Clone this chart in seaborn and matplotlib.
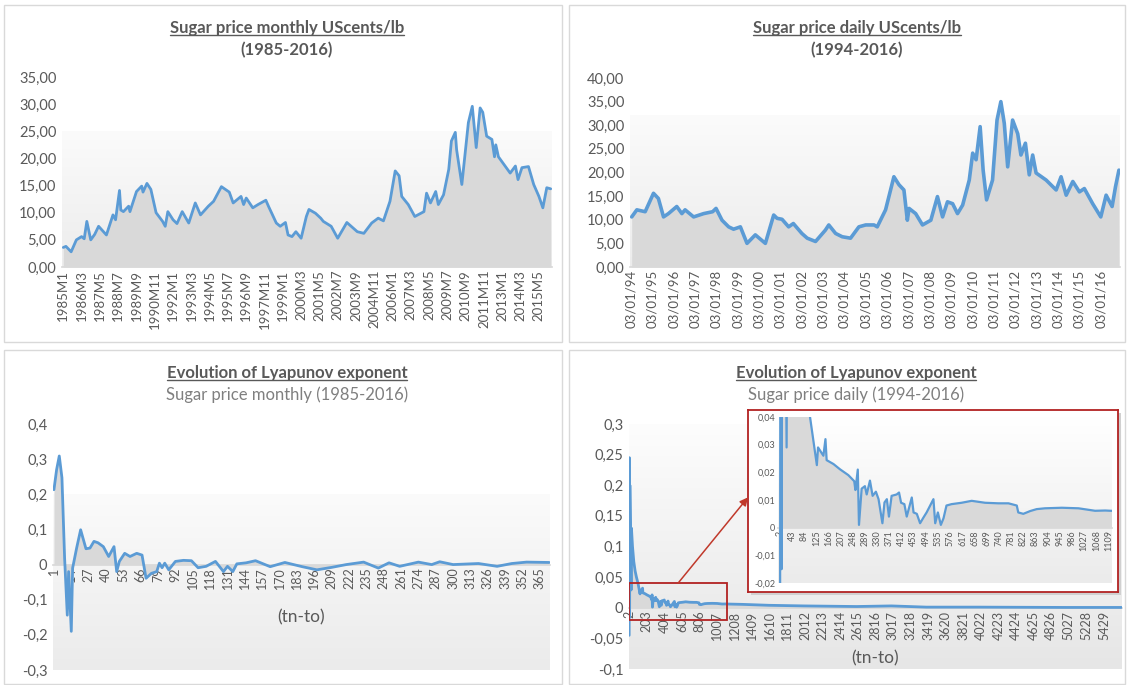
import numpy as np
import pandas as pd
import matplotlib
matplotlib.use("Agg")
import matplotlib.pyplot as plt
import seaborn as sns
from matplotlib.colors import LinearSegmentedColormap
from matplotlib.patches import Rectangle, ConnectionPatch
from matplotlib.lines import Line2D
from matplotlib.transforms import IdentityTransform

# ---------------- data ----------------
# monthly sugar price, month index counted from 1985M1
monthly_t = [0, 2, 6, 10, 14, 16, 18, 21, 24, 27, 33, 38, 40, 43, 44, 46, 50, 51, 56, 60,
             61, 64, 67, 71, 76, 78, 80, 84, 87, 91, 96, 101, 105, 111, 115, 121, 124, 127,
             130, 136, 138, 140, 145, 149, 155, 157, 163, 166, 170, 172, 175, 178, 182, 186,
             188, 193, 197, 199, 205, 210, 217, 225, 230, 236, 241, 245, 250, 254, 257, 259,
             264, 269, 276, 278, 281, 285, 287, 291, 295, 297, 300, 301, 305, 310, 313, 316,
             319, 321, 324, 328, 330, 331, 333, 342, 346, 348, 351, 356, 360, 364, 367, 370, 373]
monthly_price = [3.6, 3.8, 2.8, 5.0, 5.6, 5.2, 8.4, 5.0, 6.0, 7.5, 5.9, 9.6, 8.7, 14.1, 10.5,
                 10.2, 11.2, 10.2, 13.9, 14.9, 13.8, 15.4, 14.3, 10.0, 8.4, 7.5, 10.2, 8.7, 8.0,
                 10.2, 8.1, 11.8, 9.6, 11.2, 12.1, 14.8, 14.3, 13.8, 11.8, 13.0, 11.5, 12.7,
                 10.9, 11.5, 12.3, 11.2, 8.1, 7.5, 8.2, 5.9, 5.6, 6.5, 5.3, 9.3, 10.6, 9.9, 9.0,
                 8.4, 7.5, 5.3, 8.2, 6.5, 6.2, 8.1, 9.0, 8.5, 12.1, 17.7, 16.8, 13.0, 11.5, 9.3,
                 10.2, 13.6, 11.8, 13.9, 11.5, 13.3, 18.0, 23.2, 24.8, 21.6, 15.2, 26.6, 29.6,
                 22.0, 29.3, 28.5, 24.1, 23.5, 20.3, 22.5, 20.3, 17.3, 18.6, 16.1, 18.3, 18.5,
                 15.2, 13.0, 10.9, 14.6, 14.4]
monthly_ticks = ["1985M1", "1986M3", "1987M5", "1988M7", "1989M9", "1990M11", "1992M1",
                 "1993M3", "1994M5", "1995M7", "1996M9", "1997M11", "1999M1", "2000M3",
                 "2001M5", "2002M7", "2003M9", "2004M11", "2006M1", "2007M3", "2008M5",
                 "2009M7", "2010M9", "2011M11", "2013M1", "2014M3", "2015M5"]
monthly_tick_pos = list(range(0, 365, 14))
monthly_yticks = [0, 5, 10, 15, 20, 25, 30, 35]
monthly_ylabels = ["0,00", "5,00", "10,00", "15,00", "20,00", "25,00", "30,00", "35,00"]

# daily sugar price, x in fractional years
daily_year = [1994.03, 1994.27, 1994.66, 1995.05, 1995.28, 1995.52, 1995.75, 1996.14, 1996.38,
              1996.53, 1996.93, 1997.4, 1997.82, 1997.98, 1998.26, 1998.57, 1998.8, 1999.12,
              1999.43, 1999.82, 2000.29, 2000.68, 2000.84, 2001.07, 2001.38, 2001.6, 2002.0,
              2002.25, 2002.64, 2003.1, 2003.26, 2003.58, 2003.89, 2004.28, 2004.67, 2004.99,
              2005.38, 2005.53, 2005.92, 2006.31, 2006.55, 2006.78, 2006.94, 2007.02, 2007.33,
              2007.65, 2008.04, 2008.35, 2008.59, 2008.82, 2009.06, 2009.29, 2009.53, 2009.84,
              2010.0, 2010.16, 2010.35, 2010.49, 2010.65, 2010.93, 2011.14, 2011.32, 2011.48,
              2011.64, 2011.87, 2012.11, 2012.26, 2012.47, 2012.65, 2012.81, 2012.97, 2013.44,
              2013.91, 2014.14, 2014.38, 2014.69, 2015.0, 2015.23, 2015.62, 2016.0, 2016.25,
              2016.53, 2016.69, 2016.85]
daily_price = [10.6, 12.1, 11.7, 15.6, 14.5, 10.6, 11.3, 12.8, 11.3, 12.1, 10.6, 11.3, 11.7,
               12.4, 9.9, 8.5, 8.0, 8.5, 5.0, 6.8, 5.0, 11.0, 10.3, 10.1, 8.5, 9.2, 7.1, 6.1,
               5.4, 7.8, 8.9, 7.1, 6.4, 6.1, 8.5, 8.9, 8.9, 8.5, 12.1, 19.1, 17.4, 16.3, 9.9,
               12.4, 11.3, 8.9, 9.9, 14.9, 10.6, 13.8, 13.4, 11.3, 13.1, 18.4, 24.1, 22.7, 29.7,
               20.5, 14.2, 18.4, 31.1, 35.0, 30.4, 21.2, 31.1, 28.2, 23.7, 26.2, 19.5, 23.7,
               19.9, 18.4, 16.3, 19.1, 15.2, 18.1, 15.9, 16.6, 13.4, 10.6, 15.2, 12.8, 17.0, 20.5]
daily_ticks = ["03/01/%02d" % (y % 100) for y in range(1994, 2017)]
daily_tick_pos = list(range(1994, 2017))
daily_yticks = [0, 5, 10, 15, 20, 25, 30, 35, 40]
daily_ylabels = ["0,00", "5,00", "10,00", "15,00", "20,00", "25,00", "30,00", "35,00", "40,00"]

# Lyapunov exponent, monthly series
lyap_m_t = [1, 3, 5, 7, 9, 11, 12, 14, 15, 18, 21, 25, 28, 31, 34, 38, 42, 46, 48, 50, 54, 58,
            63, 67, 70, 74, 78, 80, 82, 84, 87, 92, 98, 104, 109, 115, 122, 128, 131, 135, 138,
            145, 152, 163, 174, 187, 198, 209, 220, 233, 244, 252, 260, 274, 284, 290, 300,
            319, 333, 344, 355, 372]
lyap_m = [0.213, 0.27, 0.309, 0.247, 0.018, -0.144, -0.02, -0.19, -0.01, 0.047, 0.099, 0.045,
          0.047, 0.066, 0.062, 0.051, 0.023, 0.051, -0.02, 0.009, 0.032, 0.023, 0.032, 0.027,
          -0.039, -0.025, -0.02, 0.004, -0.009, 0.004, -0.015, 0.009, 0.012, 0.011, -0.009,
          -0.005, 0.009, -0.02, -0.005, -0.02, 0.002, 0.005, 0.011, -0.006, 0.006, -0.006,
          -0.015, -0.008, 0.0, 0.007, -0.01, 0.005, -0.005, 0.007, 0.0, 0.008, 0.0, 0.003,
          -0.005, 0.003, 0.007, 0.006]
lyap_m_ticks = list(range(1, 366, 13))
lyap_m_yticks = [-0.3, -0.2, -0.1, 0, 0.1, 0.2, 0.3, 0.4]
lyap_m_ylabels = ["-0,3", "-0,2", "-0,1", "0", "0,1", "0,2", "0,3", "0,4"]

# Lyapunov exponent, daily series
lyap_d_t = [2, 4, 7, 10, 16, 24, 28, 40, 55, 70, 85, 103, 126, 130, 148, 155, 159, 182, 204,
            232, 252, 256, 264, 268, 277, 288, 294, 305, 314, 325, 334, 347, 354, 362, 369,
            378, 395, 403, 410, 421, 429, 446, 452, 463, 474, 485, 496, 508, 519, 525, 534,
            544, 553, 563, 580, 614, 648, 693, 738, 772, 800, 805, 822, 845, 867, 895, 952,
            1008, 1064, 1098, 1117, 1300, 1600, 2000, 2600, 3000, 3400, 4000, 5000, 5630]
lyap_d = [-0.045, 0.245, -0.015, 0.2, 0.14, 0.029, 0.13, 0.10, 0.075, 0.06, 0.05, 0.04,
          0.0226, 0.029, 0.026, 0.032, 0.0244, 0.023, 0.0211, 0.019, 0.0168, 0.0136, 0.021,
          0.001, 0.0141, 0.015, 0.012, 0.017, 0.0115, 0.013, 0.0103, 0.0016, 0.0091, 0.0103,
          0.004, 0.0115, 0.012, 0.0127, 0.009, 0.0085, 0.004, 0.0109, 0.0055, 0.005, 0.0016,
          0.0036, 0.0055, 0.008, 0.0103, 0.0016, 0.0055, 0.001, 0.0034, 0.008, 0.0085, 0.009,
          0.0097, 0.009, 0.0088, 0.0088, 0.008, 0.0055, 0.005, 0.006, 0.0067, 0.007, 0.0072,
          0.007, 0.0061, 0.0062, 0.0061, 0.0055, 0.004, 0.003, 0.002, 0.003, 0.001, 0.001,
          0.0005, 0.0005]
lyap_d_ticks = list(range(2, 5430, 201))
lyap_d_yticks = [-0.1, -0.05, 0, 0.05, 0.1, 0.15, 0.2, 0.25, 0.3]
lyap_d_ylabels = ["-0,1", "-0,05", "0", "0,05", "0,1", "0,15", "0,2", "0,25", "0,3"]
inset_ticks = list(range(2, 1110, 41))
inset_yticks = [-0.02, -0.01, 0, 0.01, 0.02, 0.03, 0.04]
inset_ylabels = ["-0,02", "-0,01", "0", "0,01", "0,02", "0,03", "0,04"]

# ---------------- style ----------------
sns.set_theme(style="white")
plt.rcParams["font.family"] = ["Lato", "DejaVu Sans"]
BLUE = "#5b9bd5"
FILL = "#d9d9d9"
TXT = "#595959"
RED = "#b22222"

W, H = 1127, 685
fig = plt.figure(figsize=(W / 100, H / 100), dpi=100)


def px_box(x0, y0, x1, y1):
    return [x0 / W, 1 - y1 / H, (x1 - x0) / W, (y1 - y0) / H]


def gradient(ax, x0, x1, y0, y1, c_bottom, c_top):
    cmap = LinearSegmentedColormap.from_list("g", [c_bottom, c_top])
    ax.imshow(np.linspace(0, 1, 256).reshape(-1, 1), extent=[x0, x1, y0, y1], origin="lower",
              cmap=cmap, aspect="auto", zorder=0)


def style(ax, xfs=9.5, yfs=10.5, zero_axis=False):
    if zero_axis:
        # axis line (and its labels) sit on y = 0, like the Excel original
        ax.spines["bottom"].set_position(("data", 0))
    for s in ["top", "right", "left"]:
        ax.spines[s].set_visible(False)
    ax.spines["bottom"].set_color(FILL)
    ax.tick_params(length=0, colors=TXT)
    ax.tick_params(axis="x", labelsize=xfs, pad=2, labelrotation=90)
    ax.tick_params(axis="y", labelsize=yfs, pad=4)
    ax.set_xlabel("")
    ax.set_ylabel("")
    ax.grid(False)
    ax.set_facecolor("none")


def plot_series(ax, x, y, lw=2):
    ax.fill_between(x, 0, y, color=FILL, lw=0, zorder=1)
    sns.lineplot(x=x, y=y, ax=ax, color=BLUE, lw=lw, estimator=None, zorder=3)


# panel borders
for b in [(4, 5, 562, 342), (569, 5, 1125, 342), (4, 350, 562, 684), (569, 350, 1125, 684)]:
    fig.add_artist(Rectangle((b[0] / W, 1 - b[3] / H), (b[2] - b[0]) / W, (b[3] - b[1]) / H,
                             transform=fig.transFigure, fill=False, edgecolor="#d9d9d9", lw=1))

# ---- top left: monthly price ----
ax1 = fig.add_axes(px_box(62, 77, 552, 267))
gradient(ax1, -1, 374, 0, 25, "#ececec", "#fbfbfb")
plot_series(ax1, monthly_t, monthly_price)
ax1.set_xlim(-1, 374)
ax1.set_ylim(0, 35)
style(ax1)
ax1.set_yticks(monthly_yticks, monthly_ylabels)
ax1.set_xticks(monthly_tick_pos, monthly_ticks)

# ---- top right: daily price ----
ax2 = fig.add_axes(px_box(630, 78, 1120, 267))
gradient(ax2, 1993.95, 2016.9, 0, 32, "#ececec", "#fbfbfb")
plot_series(ax2, daily_year, daily_price, lw=2.6)
ax2.set_xlim(1993.95, 2016.9)
ax2.set_ylim(0, 40)
style(ax2)
ax2.set_yticks(daily_yticks, daily_ylabels)
ax2.set_xticks(daily_tick_pos, daily_ticks)

# ---- bottom left: Lyapunov monthly ----
ax3 = fig.add_axes(px_box(53, 424, 550, 670))
gradient(ax3, 0.3, 372.6, -0.3, 0.2, "#ebebeb", "#fbfbfb")
plot_series(ax3, lyap_m_t, lyap_m)
ax3.set_xlim(0.3, 372.6)
ax3.set_ylim(-0.3, 0.4)
style(ax3, xfs=9, zero_axis=True)
ax3.set_yticks(lyap_m_yticks, lyap_m_ylabels)
ax3.set_xticks(lyap_m_ticks, [str(t) for t in lyap_m_ticks])
ax3.text(0.5, 0.215, "(tn-to)", transform=ax3.transAxes, ha="center", va="center",
         fontsize=12.5, color=TXT)

# ---- bottom right: Lyapunov daily ----
ax4 = fig.add_axes(px_box(629, 424, 1122, 669))
gradient(ax4, 0, 5636, -0.1, 0.3, "#e6e6e6", "#fdfdfd")
plot_series(ax4, lyap_d_t, lyap_d)
ax4.set_xlim(0, 5636)
ax4.set_ylim(-0.1, 0.3)
style(ax4, xfs=9, zero_axis=True)
ax4.set_yticks(lyap_d_yticks, lyap_d_ylabels)
ax4.set_xticks(lyap_d_ticks, [str(t) for t in lyap_d_ticks])
ax4.text(0.5, 0.045, "(tn-to)", transform=ax4.transAxes, ha="center", va="center",
         fontsize=12.5, color=TXT)

# ---- inset (zoom of daily Lyapunov) ----
shadow = fig.add_axes(px_box(751, 413, 1121, 595))
shadow.set_facecolor("#d0d0d0")
shadow.set_xticks([])
shadow.set_yticks([])
for s in shadow.spines.values():
    s.set_visible(False)
frame = fig.add_axes(px_box(748, 410, 1118, 592))
frame.set_facecolor("white")
frame.set_xticks([])
frame.set_yticks([])
for s in frame.spines.values():
    s.set_color(RED)
    s.set_linewidth(1.3)

ax5 = fig.add_axes(px_box(778, 417, 1112, 583))
ins_xlim = (-5, 1121)
ins_ylim = (-0.02, 0.04)
gradient(ax5, ins_xlim[0], ins_xlim[1], ins_ylim[0], ins_ylim[1], "#ebebeb", "#ffffff")
plot_series(ax5, lyap_d_t, lyap_d, lw=1.6)
ax5.set_xlim(*ins_xlim)
ax5.set_ylim(*ins_ylim)
style(ax5, xfs=6.5, yfs=6.5, zero_axis=True)
ax5.tick_params(axis="y", pad=2)
ax5.set_yticks(inset_yticks, inset_ylabels)
ax5.set_xticks(inset_ticks, [str(t) for t in inset_ticks])

# red box on the main chart marking the zoomed window
ax4.add_patch(Rectangle((ins_xlim[0], ins_ylim[0]), ins_xlim[1] - ins_xlim[0],
                        ins_ylim[1] - ins_ylim[0], fill=False, edgecolor=RED, lw=1.3, zorder=5))
arrow = ConnectionPatch(xyA=(560, ins_ylim[1]), coordsA=ax4.transData,
                        xyB=(0, 0.52), coordsB=frame.transAxes,
                        arrowstyle="-|>", mutation_scale=12, color="#c0392b", lw=1.1)
fig.add_artist(arrow)

# ---- titles ----
titles = [
    (287, 28, 50, "Sugar price monthly UScents/lb", "(1985-2016)", "bold"),
    (857, 28, 50, "Sugar price daily UScents/lb", "(1994-2016)", "bold"),
    (287, 373, 395, "Evolution of Lyapunov exponent", "Sugar price monthly (1985-2016)", "normal"),
    (856, 373, 395, "Evolution of Lyapunov exponent", "Sugar price daily (1994-2016)", "normal"),
]
heads = []
for x, y1, y2, t1, t2, w2 in titles:
    h = fig.text(x / W, 1 - y1 / H, t1, ha="center", va="center", fontsize=12,
                 fontweight="bold", color=TXT)
    heads.append(h)
    fig.text(x / W, 1 - y2 / H, t2, ha="center", va="center", fontsize=12,
             fontweight=w2, color=TXT if w2 == "bold" else "#7f7f7f")

fig.canvas.draw()
renderer = fig.canvas.get_renderer()
for h in heads:
    bb = h.get_window_extent(renderer)
    fig.add_artist(Line2D([bb.x0, bb.x1], [bb.y0 + 1, bb.y0 + 1], transform=IdentityTransform(),
                          color=TXT, lw=1))

fig.savefig("out.png", dpi=100)
